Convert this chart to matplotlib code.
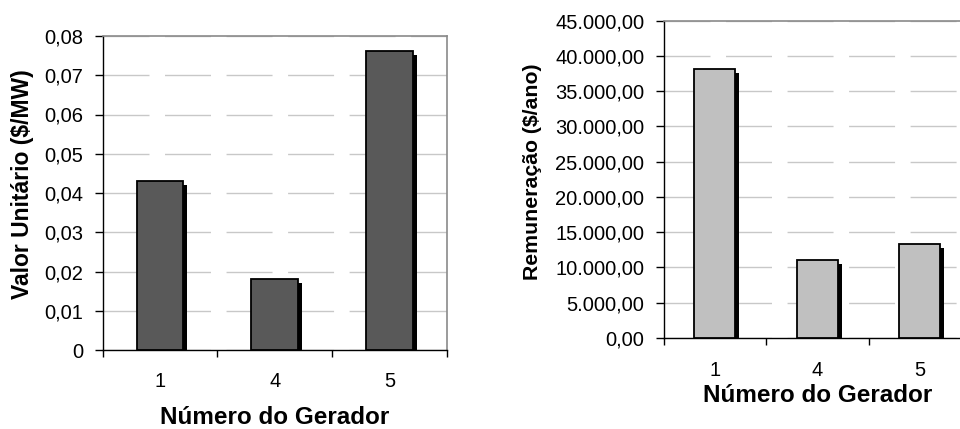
import matplotlib
matplotlib.use("Agg")
import matplotlib.pyplot as plt
from matplotlib.transforms import ScaledTranslation
from matplotlib.ticker import FixedLocator, FuncFormatter

plt.rcParams['font.family'] = ['Liberation Sans', 'DejaVu Sans']
plt.rcParams['lines.scale_dashes'] = False

categories = ["1", "4", "5"]
valor_unitario = [0.0431, 0.0180, 0.0763]
remuneracao = [38150, 11050, 13370]
left_yticks = [0, 0.01, 0.02, 0.03, 0.04, 0.05, 0.06, 0.07, 0.08]
right_yticks = [0, 5000, 10000, 15000, 20000, 25000, 30000, 35000, 40000, 45000]

fig = plt.figure(figsize=(9.6, 4.29), dpi=100)

def fmt_left(v, pos):
    if abs(v) < 1e-12:
        return "0"
    return ("%.2f" % v).replace(".", ",")

def fmt_right(v, pos):
    s = "{:,.2f}".format(v)
    return s.replace(",", "X").replace(".", ",").replace("X", ".")

def make_panel(rect, values, yticks, ymax, color, width, fmt, ylabel, ylabel_size,
               xlabel_y, ylabel_xy, xpad):
    ax = fig.add_axes(rect)
    x = list(range(len(categories)))
    ax.set_xlim(-0.5, len(categories) - 0.5)
    ax.set_ylim(0, ymax)
    shadow = ScaledTranslation(4 / 100, -4 / 100, fig.dpi_scale_trans)
    ax.bar(x, values, width=width, color="black", edgecolor="black", lw=0,
           transform=ax.transData + shadow, zorder=2)
    ax.bar(x, values, width=width, color=color, edgecolor="black", lw=1.3, zorder=3)
    ax.yaxis.set_major_locator(FixedLocator(yticks))
    ax.yaxis.set_major_formatter(FuncFormatter(fmt))
    ax.xaxis.set_major_locator(FixedLocator([i - 0.5 for i in range(len(categories) + 1)]))
    ax.xaxis.set_major_formatter(FuncFormatter(lambda v, p: ""))
    ax.xaxis.set_minor_locator(FixedLocator(x))
    ax.xaxis.set_minor_formatter(FuncFormatter(lambda v, p: categories[int(round(v))]))
    ax.tick_params(axis="x", which="major", direction="out", length=5, width=1, color="black")
    ax.tick_params(axis="x", which="minor", length=0, pad=xpad, labelsize=14.5)
    ax.tick_params(axis="y", direction="out", length=6, width=1, pad=8, labelsize=14.5)
    ax.set_axisbelow(True)
    ax.yaxis.grid(True, color="#c8c8c8", lw=1.0, linestyle=(0, (33.1, 11.2)))
    for s in ("left", "bottom"):
        ax.spines[s].set_color("black")
        ax.spines[s].set_linewidth(1.0)
    for s in ("top", "right"):
        ax.spines[s].set_color("#8a8a8a")
        ax.spines[s].set_linewidth(1.2)
    ax.set_xlabel("Número do Gerador", fontsize=17.5, fontweight="bold", va="center")
    ax.xaxis.set_label_coords(0.5, xlabel_y)
    ax.set_ylabel(ylabel, fontsize=ylabel_size, fontweight="bold", va="center")
    ax.yaxis.set_label_coords(*ylabel_xy)
    return ax

# left panel
lx0, ly0 = 102.7, 36.0
lx1, ly1 = 446.7, 350.0
axL = make_panel([lx0 / 960, (429 - ly1) / 429, (lx1 - lx0) / 960, (ly1 - ly0) / 429],
                 valor_unitario, left_yticks, 0.08, "#595959", 0.407, fmt_left,
                 "Valor Unitário ($/MW)", 16.5,
                 -(418 - ly1) / (ly1 - ly0),
                 (-(lx0 - 23) / (lx1 - lx0), (ly1 - 184) / (ly1 - ly0)), 16)

# right panel (extends past the figure edge as in the reference)
rx0, ry0 = 663.7, 20.7
rx1, ry1 = 971.2, 338.0
axR = make_panel([rx0 / 960, (429 - ry1) / 429, (rx1 - rx0) / 960, (ry1 - ry0) / 429],
                 remuneracao, right_yticks, 45000, "#c0c0c0", 0.4, fmt_right,
                 "Remuneração ($/ano)", 15.3,
                 -(396 - ry1) / (ry1 - ry0),
                 (-(rx0 - 533) / (rx1 - rx0), (ry1 - 171.7) / (ry1 - ry0)), 16.5)

fig.savefig("out.png", dpi=100)
